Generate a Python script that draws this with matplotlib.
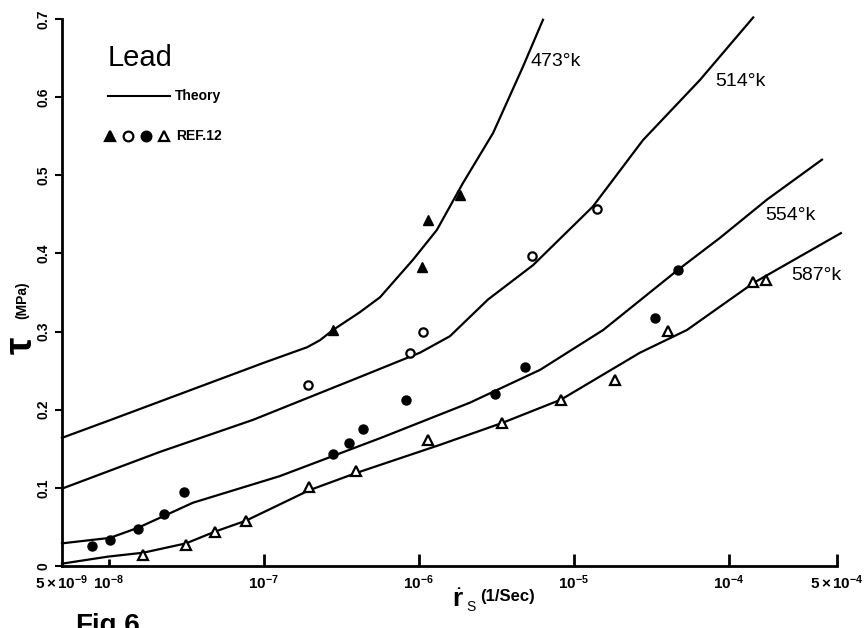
import matplotlib
matplotlib.use("Agg")
import matplotlib.pyplot as plt

plt.rcParams['font.family'] = ['Liberation Sans', 'DejaVu Sans']
plt.rcParams['mathtext.fontset'] = 'custom'
plt.rcParams['mathtext.rm'] = 'Liberation Sans'
plt.rcParams['mathtext.bf'] = 'Liberation Sans:bold'
plt.rcParams['mathtext.it'] = 'Liberation Sans:italic'

# theory curves (strain rate 1/s, shear stress MPa)
x_473 = [5e-9, 1e-8, 1e-7, 1.91e-7, 2.31e-7, 2.80e-7, 4.19e-7, 5.64e-7, 9.2e-7, 1.31e-6, 1.93e-6, 3.02e-6, 4.71e-6, 6.34e-6]
y_473 = [0.164, 0.186, 0.260, 0.280, 0.289, 0.302, 0.325, 0.344, 0.392, 0.430, 0.490, 0.554, 0.639, 0.699]

x_514 = [5e-9, 2.14e-8, 8.53e-8, 4.19e-7, 1.02e-6, 1.59e-6, 2.80e-6, 5.47e-6, 1.33e-5, 2.80e-5, 6.53e-5, 1.44e-4]
y_514 = [0.099, 0.146, 0.187, 0.242, 0.273, 0.294, 0.341, 0.385, 0.460, 0.545, 0.622, 0.702]

x_554 = [5e-9, 1.02e-8, 1.55e-8, 3.50e-8, 1.27e-7, 5.89e-7, 2.14e-6, 6.07e-6, 1.55e-5, 4.71e-5, 8.8e-5, 1.77e-4, 4.0e-4]
y_554 = [0.029, 0.036, 0.049, 0.081, 0.115, 0.165, 0.209, 0.251, 0.302, 0.379, 0.420, 0.469, 0.520]

x_587 = [5e-9, 9.9e-9, 1.67e-8, 3.16e-8, 4.85e-8, 7.69e-8, 1.97e-7, 3.95e-7, 1.37e-6, 3.45e-6, 8.3e-6, 2.68e-5, 5.38e-5, 1.44e-4, 5.3e-4]
y_587 = [0.003, 0.012, 0.017, 0.029, 0.044, 0.058, 0.097, 0.119, 0.155, 0.183, 0.213, 0.273, 0.302, 0.362, 0.426]

# REF.12 data
ft_x = [2.80e-7, 1.05e-6, 1.15e-6, 1.85e-6]
ft_y = [0.302, 0.382, 0.443, 0.475]

oc_x = [1.93e-7, 8.8e-7, 1.07e-6, 5.38e-6, 1.42e-5]
oc_y = [0.232, 0.273, 0.300, 0.397, 0.457]

fc_x = [7.8e-9, 1.02e-8, 1.54e-8, 2.29e-8, 3.08e-8, 2.81e-7, 3.57e-7, 4.36e-7, 8.28e-7, 3.11e-6, 4.85e-6, 3.35e-5, 4.69e-5]
fc_y = [0.025, 0.033, 0.047, 0.067, 0.095, 0.143, 0.158, 0.175, 0.212, 0.220, 0.255, 0.318, 0.379]

ot_x = [1.66e-8, 3.16e-8, 4.85e-8, 7.65e-8, 1.97e-7, 3.95e-7, 1.15e-6, 3.44e-6, 8.24e-6, 1.86e-5, 4.08e-5, 1.44e-4, 1.73e-4]
ot_y = [0.014, 0.027, 0.044, 0.058, 0.101, 0.122, 0.161, 0.183, 0.213, 0.238, 0.301, 0.363, 0.366]

xticks = [5e-9, 1e-8, 1e-7, 1e-6, 1e-5, 1e-4, 5e-4]
xticklabels = [r'$\mathbf{5\times10^{-9}}$', r'$\mathbf{10^{-8}}$', r'$\mathbf{10^{-7}}$',
               r'$\mathbf{10^{-6}}$', r'$\mathbf{10^{-5}}$', r'$\mathbf{10^{-4}}$',
               r'$\mathbf{5\times10^{-4}}$']
yticks = [0, 0.1, 0.2, 0.3, 0.4, 0.5, 0.6, 0.7]
yticklabels = ['0', '0.1', '0.2', '0.3', '0.4', '0.5', '0.6', '0.7']

W, H = 868, 628
fig = plt.figure(figsize=(W / 100, H / 100), dpi=100)
ax = fig.add_axes([62 / W, 62 / H, 775 / W, 547 / H])


def axf(px, py):
    # pixel position -> axes fraction
    return (px - 62) / 775, (566 - py) / 547


for xs, ys in [(x_473, y_473), (x_514, y_514), (x_554, y_554), (x_587, y_587)]:
    ax.plot(xs, ys, color='black', lw=1.6, clip_on=False, zorder=2)

ax.plot(ft_x, ft_y, '^', color='black', ms=7, zorder=3)
ax.plot(oc_x, oc_y, 'o', mfc='white', mec='black', mew=1.6, ms=6, zorder=3)
ax.plot(fc_x, fc_y, 'o', color='black', ms=6.5, zorder=3)
ax.plot(ot_x, ot_y, '^', mfc='white', mec='black', mew=1.6, ms=7.5, zorder=3)

ax.set_xscale('log')
ax.set_xlim(5e-9, 5e-4)
ax.set_ylim(0, 0.7)
ax.minorticks_off()

for s in ['top', 'right']:
    ax.spines[s].set_visible(False)
for s in ['left', 'bottom']:
    ax.spines[s].set_linewidth(2)

ax.set_xticks(xticks)
ax.set_xticklabels(xticklabels, fontsize=11)
ax.tick_params(axis='x', direction='in', length=9, width=2, pad=5)
ax.xaxis.get_major_ticks()[0].tick1line.set_visible(False)
ax.xaxis.get_major_ticks()[1].tick1line.set_markersize(5)

ax.set_yticks(yticks)
ax.set_yticklabels(yticklabels, fontsize=10, fontweight='bold', rotation=90, va='center')
ax.tick_params(axis='y', direction='out', length=5, width=1.5, pad=3)

# legend drawn by hand
ax.text(*axf(108, 58), 'Lead', transform=ax.transAxes, fontsize=21,
        ha='left', va='center')
lx0, ly = axf(108, 96)
lx1, _ = axf(170, 96)
ax.plot([lx0, lx1], [ly, ly], color='black', lw=1.5, transform=ax.transAxes, clip_on=False)
ax.text(*axf(175, 96), 'Theory', transform=ax.transAxes, fontsize=10,
        fontweight='bold', ha='left', va='center')
mk = [('^', 'black', 110), ('o', 'white', 128), ('o', 'black', 146), ('^', 'white', 164)]
for m, fc, px in mk:
    ax.plot(*axf(px, 136), m, mfc=fc, mec='black', mew=1.6, ms=7,
            transform=ax.transAxes, clip_on=False)
ax.text(*axf(176, 136), 'REF.12', transform=ax.transAxes, fontsize=10,
        fontweight='bold', ha='left', va='center')

# curve labels
for lab, px, py in [('473°k', 556, 61), ('514°k', 740, 82), ('554°k', 790, 215), ('587°k', 816, 276)]:
    ax.text(*axf(px, py), lab, transform=ax.transAxes, fontsize=14,
            ha='center', va='center')

# axis labels
fig.text(22 / W, 1 - 345 / H, 'τ', fontsize=28, fontweight='bold', rotation=90,
         ha='center', va='center')
fig.text(22 / W, 1 - 300 / H, '(MPa)', fontsize=10, fontweight='bold', rotation=90,
         ha='center', va='center')
fig.text(452 / W, 1 - 600 / H, r'$\dot{\mathbf{r}}$', fontsize=19,
         ha='left', va='center')
fig.text(466 / W, 1 - 607 / H, 'S', fontsize=10,
         ha='left', va='center')
fig.text(480 / W, 1 - 597 / H, '(1/Sec)', fontsize=12, fontweight='bold',
         ha='left', va='center')
fig.text(75 / W, 1 - 613 / H, 'Fig.6', fontsize=20, fontweight='bold',
         ha='left', va='top')

fig.savefig('out.png', dpi=100)
